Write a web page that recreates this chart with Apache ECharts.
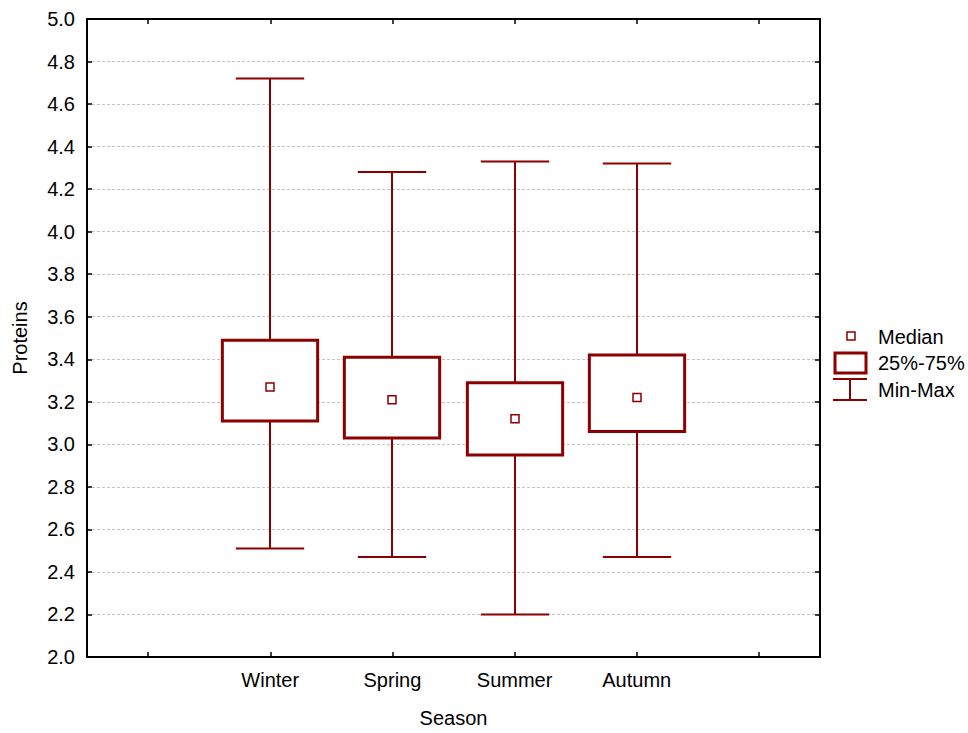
<!DOCTYPE html>
<html>
<head>
<meta charset="utf-8">
<script src="https://cdn.jsdelivr.net/npm/echarts@6/dist/echarts.min.js"></script>
<style>
html,body{margin:0;padding:0;background:#fff;}
#chart{width:968px;height:733px;}
</style>
</head>
<body>
<div id="chart"></div>
<script>
// ---- data ----
var categories = ['Winter', 'Spring', 'Summer', 'Autumn'];
var minValues = [2.51, 2.47, 2.20, 2.47];
var q1Values = [3.11, 3.03, 2.95, 3.06];
var medianValues = [3.27, 3.21, 3.12, 3.22];
var q3Values = [3.49, 3.41, 3.29, 3.42];
var maxValues = [4.72, 4.28, 4.33, 4.32];
var yTicks = [2.0, 2.2, 2.4, 2.6, 2.8, 3.0, 3.2, 3.4, 3.6, 3.8, 4.0, 4.2, 4.4, 4.6, 4.8, 5.0];
var legendLabels = ['Median', '25%-75%', 'Min-Max'];

var COLOR = '#8B0000';
var FONT = 'Liberation Sans, Arial, sans-serif';
var FS = 20;

var axisCats = [''].concat(categories).concat(['']);
var boxData = categories.map(function (c, i) {
  return [i + 1, minValues[i], q1Values[i], medianValues[i], q3Values[i], maxValues[i]];
});

function renderBox(params, api) {
  var x = api.value(0);
  var band = api.size([1, 0])[0];
  var pMin = api.coord([x, api.value(1)]);
  var pQ1 = api.coord([x, api.value(2)]);
  var pMed = api.coord([x, api.value(3)]);
  var pQ3 = api.coord([x, api.value(4)]);
  var pMax = api.coord([x, api.value(5)]);
  var cx = Math.round(pMed[0]);
  var bw = band * 0.78;
  var cw = band * 0.56;
  var ms = 8;
  var lineStyle = { stroke: COLOR, lineWidth: 2, fill: null };
  return {
    type: 'group',
    children: [
      { type: 'line', shape: { x1: cx, y1: pMax[1], x2: cx, y2: pQ3[1] }, style: lineStyle },
      { type: 'line', shape: { x1: cx, y1: pQ1[1], x2: cx, y2: pMin[1] }, style: lineStyle },
      { type: 'line', shape: { x1: cx - cw / 2, y1: pMax[1], x2: cx + cw / 2, y2: pMax[1] }, style: lineStyle },
      { type: 'line', shape: { x1: cx - cw / 2, y1: pMin[1], x2: cx + cw / 2, y2: pMin[1] }, style: lineStyle },
      { type: 'rect', shape: { x: cx - bw / 2, y: pQ3[1], width: bw, height: pQ1[1] - pQ3[1] },
        style: { stroke: COLOR, lineWidth: 3, fill: '#fff' } },
      { type: 'rect', shape: { x: cx - ms / 2, y: pMed[1] - ms / 2, width: ms, height: ms },
        style: { stroke: COLOR, lineWidth: 1.5, fill: '#fff' } }
    ]
  };
}

var chart = echarts.init(document.getElementById('chart'), null, { renderer: 'svg' });

var axisLine = { show: true, lineStyle: { color: '#000', width: 2 } };
var tickIn = { show: true, inside: true, length: 5, lineStyle: { color: '#000', width: 1.5 } };

chart.setOption({
  animation: false,
  backgroundColor: '#fff',
  grid: { left: 87, right: 148, top: 19, bottom: 69, containLabel: false },
  xAxis: [
    {
      type: 'category', data: axisCats, position: 'bottom', boundaryGap: true,
      axisLine: axisLine,
      axisTick: { show: true, inside: true, length: 5, alignWithLabel: true, interval: 0, lineStyle: { color: '#000', width: 1.5 } },
      axisLabel: { interval: 0, color: '#000', fontSize: FS, fontFamily: FONT, margin: 13 },
      name: 'Season', nameLocation: 'middle', nameGap: 51,
      nameTextStyle: { color: '#000', fontSize: FS, fontFamily: FONT },
      splitLine: { show: false }
    },
    {
      type: 'category', data: axisCats, position: 'top', boundaryGap: true,
      axisLine: axisLine,
      axisTick: { show: true, inside: true, length: 5, alignWithLabel: true, interval: 0, lineStyle: { color: '#000', width: 1.5 } },
      axisLabel: { show: false },
      splitLine: { show: false }
    }
  ],
  yAxis: [
    {
      type: 'value', min: 2.0, max: 5.0, interval: 0.2, position: 'left',
      axisLine: axisLine, axisTick: tickIn,
      axisLabel: { color: '#000', fontSize: FS, fontFamily: FONT, margin: 12,
        formatter: function (v) { return v.toFixed(1); } },
      splitLine: { show: true, lineStyle: { color: '#c4c4c4', type: [3, 2], width: 1 } },
      name: 'Proteins', nameLocation: 'middle', nameGap: 57, nameRotate: 90,
      nameTextStyle: { color: '#000', fontSize: FS, fontFamily: FONT }
    },
    {
      type: 'value', min: 2.0, max: 5.0, interval: 0.2, position: 'right',
      axisLine: axisLine, axisTick: tickIn,
      axisLabel: { show: false }, splitLine: { show: false }
    }
  ],
  series: [
    {
      type: 'custom', name: 'box', xAxisIndex: 0, yAxisIndex: 0,
      renderItem: renderBox, data: boxData, z: 10
    }
  ],
  graphic: [
    { type: 'rect', shape: { x: 847, y: 332, width: 8, height: 8 }, style: { stroke: COLOR, lineWidth: 1.5, fill: '#fff' } },
    { type: 'text', x: 878, y: 337, style: { text: legendLabels[0], fill: '#000', font: FS + 'px ' + FONT, verticalAlign: 'middle' } },
    { type: 'rect', shape: { x: 835, y: 353, width: 31, height: 20 }, style: { stroke: COLOR, lineWidth: 3, fill: '#fff' } },
    { type: 'text', x: 878, y: 363, style: { text: legendLabels[1], fill: '#000', font: FS + 'px ' + FONT, verticalAlign: 'middle' } },
    { type: 'line', shape: { x1: 833, y1: 379, x2: 867, y2: 379 }, style: { stroke: COLOR, lineWidth: 2 } },
    { type: 'line', shape: { x1: 833, y1: 400, x2: 867, y2: 400 }, style: { stroke: COLOR, lineWidth: 2 } },
    { type: 'line', shape: { x1: 850, y1: 379, x2: 850, y2: 400 }, style: { stroke: COLOR, lineWidth: 2 } },
    { type: 'text', x: 878, y: 390, style: { text: legendLabels[2], fill: '#000', font: FS + 'px ' + FONT, verticalAlign: 'middle' } }
  ]
});
</script>
</body>
</html>
